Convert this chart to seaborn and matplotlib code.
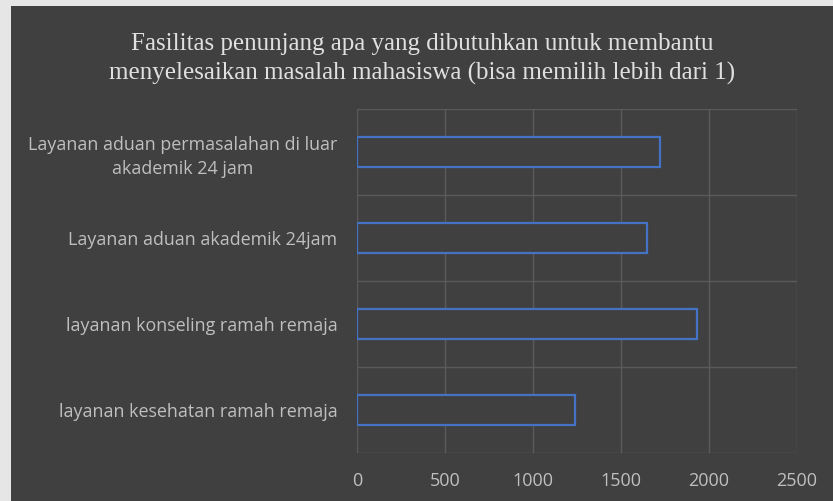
import matplotlib
matplotlib.use("Agg")
import matplotlib.pyplot as plt
import seaborn as sns
import pandas as pd
from matplotlib.patches import Rectangle
from matplotlib.ticker import FixedLocator

categories = [
    "Layanan aduan permasalahan di luar\nakademik 24 jam",
    "Layanan aduan akademik 24jam",
    "layanan konseling ramah remaja",
    "layanan kesehatan ramah remaja",
]
values = [1720, 1650, 1930, 1240]
xticks = [0, 500, 1000, 1500, 2000, 2500]
title = ("Fasilitas penunjang apa yang dibutuhkan untuk membantu\n"
         "menyelesaikan masalah mahasiswa (bisa memilih lebih dari 1)")

df = pd.DataFrame({"kategori": categories, "jumlah": values})

sns.set_theme(style="dark")
bg = "#404040"
txt = "#bfbfbf"
grid = "#5a5a5a"

fig = plt.figure(figsize=(8.33, 5.01), dpi=100, facecolor=bg)
# light border on top and left
fig.patches.append(Rectangle((0, 1 - 6 / 501), 1, 6 / 501, transform=fig.transFigure,
                             facecolor="#e6e6e6", edgecolor="none", zorder=-10))
fig.patches.append(Rectangle((0, 0), 11 / 833, 1, transform=fig.transFigure,
                             facecolor="#e6e6e6", edgecolor="none", zorder=-10))
ax = fig.add_axes([357 / 833, 1 - 453 / 501, 440 / 833, (453 - 109) / 501])
ax.set_facecolor(bg)

sns.barplot(data=df, x="jumlah", y="kategori", orient="h", order=categories,
            width=0.36, facecolor=bg, edgecolor="#4472c4", linewidth=1.6, ax=ax,
            zorder=3)

ax.set_xlim(0, 2500)
ax.set_ylim(3.5, -0.5)
ax.set_xticks(xticks)
ax.set_xticklabels([str(t) for t in xticks])
ax.yaxis.set_minor_locator(FixedLocator([-0.5, 0.5, 1.5, 2.5, 3.5]))
ax.grid(axis="x", which="major", color=grid, linewidth=1)
ax.grid(axis="y", which="minor", color=grid, linewidth=1)
ax.grid(axis="y", which="major", visible=False)
ax.set_axisbelow(True)
for s in ax.spines.values():
    s.set_visible(False)
ax.set_xlabel("")
ax.set_ylabel("")
ax.tick_params(axis="x", colors=txt, labelsize=13, pad=14, length=0)
ax.tick_params(axis="y", colors=txt, labelsize=12.9, pad=14, length=0, which="both")
for lab in ax.get_xticklabels():
    lab.set_fontfamily(["Open Sans", "DejaVu Sans"])
    lab.set_color(txt)
for lab in ax.get_yticklabels():
    lab.set_fontfamily(["Open Sans", "DejaVu Sans"])
    lab.set_color(txt)
    lab.set_horizontalalignment("right")
    lab.set_multialignment("center")
    lab.set_linespacing(1.4)

fig.text(0.5 + 6 / 833, 1 - 59 / 501, title, ha="center", va="center",
         fontsize=18, color="#e0e0e0", family=["Liberation Serif", "DejaVu Serif"],
         linespacing=1.4)

fig.savefig("out.png", dpi=100, facecolor=fig.get_facecolor())
